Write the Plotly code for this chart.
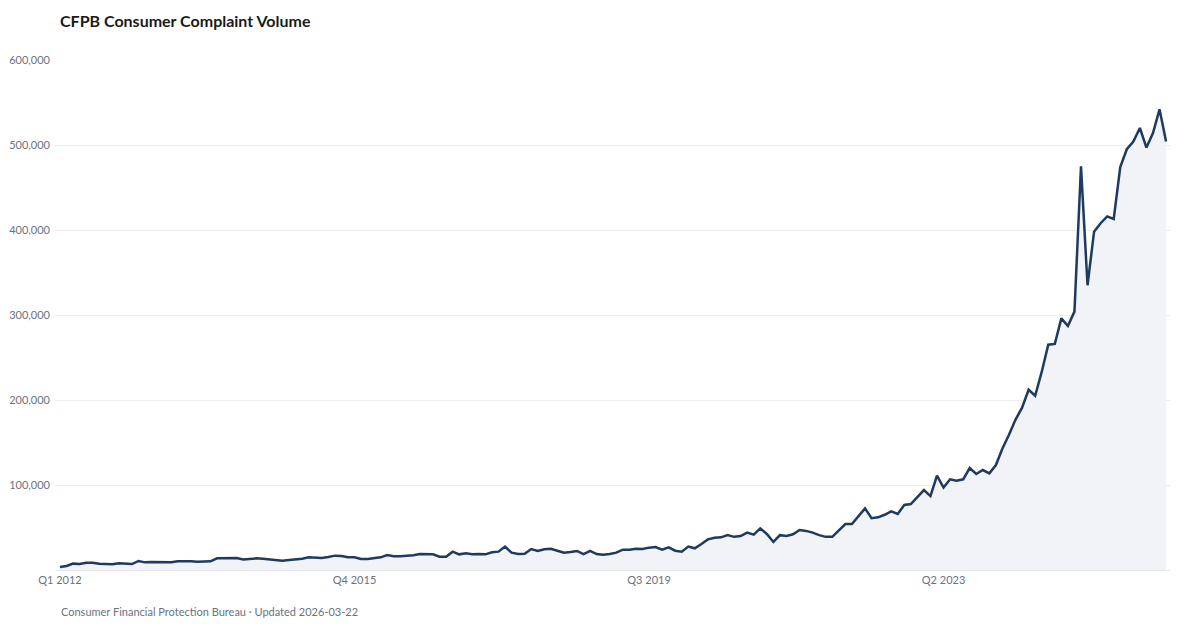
import plotly.graph_objects as go

# Monthly complaint volume, Jan 2012 .. Feb 2026 (values in thousands)
volume_k = [
    3.5, 4.7, 7.5, 7.0, 8.6, 8.6, 7.5, 7.5, 6.7, 7.8, 7.0, 7.0,
    10.6, 9.0, 9.4, 9.4, 8.6, 9.0, 10.2, 10.6, 10.2, 9.8, 9.8, 10.2,
    13.7, 14.1, 14.5, 14.1, 12.5, 12.9, 13.7, 13.1, 12.5, 12.2, 11.0, 11.8,
    12.5, 13.3, 14.9, 14.1, 14.1, 15.3, 16.9, 16.5, 14.9, 14.9, 12.9, 12.9,
    13.7, 14.9, 17.6, 16.1, 16.1, 16.5, 17.3, 18.8, 18.8, 18.4, 15.7, 15.7,
    21.6, 18.4, 19.6, 18.4, 18.8, 18.4, 20.8, 21.6, 27.5, 20.4, 18.8, 19.2,
    24.7, 22.4, 24.3, 25.0, 22.7, 20.4, 21.2, 22.4, 18.8, 22.4, 18.8, 18.0,
    18.8, 20.4, 23.9, 23.9, 25.0, 24.7, 26.3, 27.0, 23.8, 26.7, 22.7, 21.6,
    27.5, 25.5, 30.6, 36.0, 38.0, 38.4, 41.0, 39.0, 40.0, 44.0, 41.6, 49.0,
    42.4, 33.0, 41.0, 40.0, 42.0, 47.0, 46.0, 44.0, 41.0, 39.0, 39.0, 47.0,
    54.0, 54.0, 63.0, 72.5, 61.0, 62.0, 65.0, 69.0, 66.0, 76.5, 77.6, 85.5,
    94.0, 87.0, 111.0, 97.0, 106.7, 105.0, 106.7, 120.0, 113.0, 117.6, 113.7, 123.5,
    143.0, 159.0, 177.0, 191.0, 212.0, 205.0, 233.0, 265.0, 266.0, 296.0, 287.0, 304.0,
    475.0, 335.0, 398.0, 408.0, 416.0, 413.0, 474.0, 495.0, 504.0, 520.0, 497.0, 514.0,
    542.0, 504.0,
]
volume = [v * 1000 for v in volume_k]

months = list(range(len(volume)))
tick_positions = [0, 45, 90, 135]
tick_labels = ["Q1 2012", "Q4 2015", "Q3 2019", "Q2 2023"]
y_ticks = [100000, 200000, 300000, 400000, 500000, 600000]

FONT = "Lato, 'Noto Sans', sans-serif"
GRAY = "#6b7280"

# page has an 8px body margin; size the figure so it fits the 1200x630 window
W, H = 1184, 614
ML, MR, MT, MB = 47, 22, 52, 52
plot_h = H - MT - MB

fig = go.Figure()
fig.add_trace(go.Scatter(
    x=months, y=volume, mode="lines",
    line=dict(color="#1f3a5f", width=2.5),
    fill="tozeroy", fillcolor="rgba(241,243,246,1)",
    hoverinfo="skip", showlegend=False,
))

fig.update_layout(
    width=W, height=H,
    margin=dict(l=ML, r=MR, t=MT, b=MB),
    paper_bgcolor="white", plot_bgcolor="white",
    font=dict(family=FONT, color=GRAY, size=11),
    title=dict(text="<b>CFPB Consumer Complaint Volume</b>", x=52 / W, xanchor="left",
               y=1 - 13.7 / H, yanchor="middle",
               font=dict(family=FONT, size=16, color="#1a1a1a")),
    xaxis=dict(range=[-0.76, 169.6], tickmode="array", tickvals=tick_positions,
               ticktext=tick_labels, showgrid=False, zeroline=False,
               showline=True, linecolor="#e5e7eb", linewidth=1, ticks="",
               automargin=False,
               tickfont=dict(size=11, color=GRAY)),
    yaxis=dict(range=[0, 600000], tickmode="array", tickvals=y_ticks,
               tickformat=",d", showgrid=True, gridcolor="#ececee", gridwidth=1,
               zeroline=False, showline=False, ticks="",
               automargin=False, ticklabelstandoff=4,
               tickfont=dict(size=11, color=GRAY)),
    annotations=[dict(text="Consumer Financial Protection Bureau · Updated 2026-03-22",
                      xref="paper", yref="paper", x=4 / (W - ML - MR), y=-41.7 / plot_h,
                      xanchor="left", yanchor="middle", showarrow=False,
                      font=dict(family=FONT, size=11, color=GRAY))],
)

fig.write_html("out.html")
